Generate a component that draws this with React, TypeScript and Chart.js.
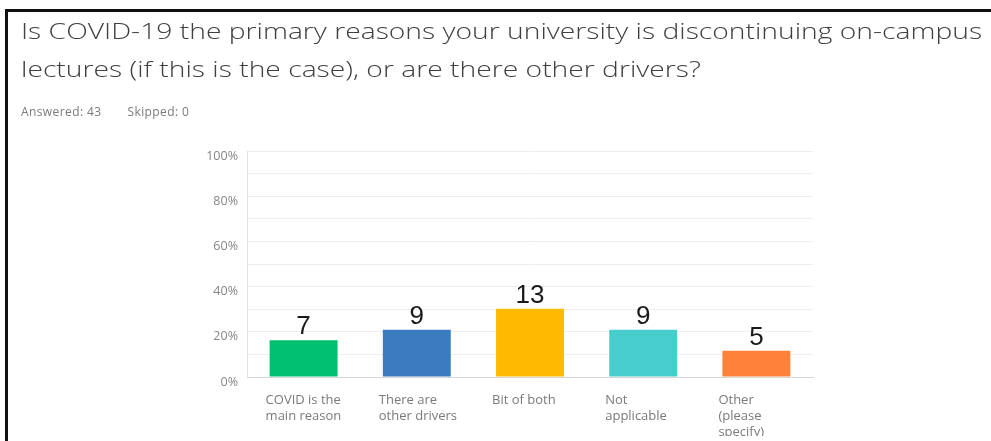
import React, { useEffect, useRef } from "react";
import { Chart, registerables } from "chart.js";

Chart.register(...registerables);

const titleLines = [
  "Is COVID-19 the primary reasons your university is discontinuing on-campus",
  "lectures (if this is the case), or are there other drivers?",
];
const answered = 43;
const skipped = 0;
const categories: string[][] = [
  ["COVID is the", "main reason"],
  ["There are", "other drivers"],
  ["Bit of both"],
  ["Not", "applicable"],
  ["Other", "(please", "specify)"],
];
const counts = [7, 9, 13, 9, 5];
const barColors = ["#00BF6F", "#3B7BC0", "#FFBA00", "#48CDCD", "#FF813A"];
const yTicks = [0, 20, 40, 60, 80, 100];

const countLabels = {
  id: "countLabels",
  afterDatasetsDraw(chart: any) {
    const ctx = chart.ctx;
    const meta = chart.getDatasetMeta(0);
    ctx.save();
    ctx.font = "26px 'Liberation Sans', Arial, sans-serif";
    ctx.fillStyle = "#1a1a1a";
    ctx.textAlign = "center";
    ctx.textBaseline = "alphabetic";
    meta.data.forEach((bar: any, i: number) => {
      ctx.fillText(String(counts[i]), bar.x, bar.y - 6);
    });
    ctx.restore();
  },
};

export default function App() {
  const ref = useRef<HTMLCanvasElement | null>(null);
  useEffect(() => {
    if (!ref.current) return;
    const percents = counts.map((c) => (c / answered) * 100);
    const chart = new Chart(ref.current, {
      type: "bar",
      data: {
        labels: categories,
        datasets: [
          {
            data: percents,
            backgroundColor: barColors,
            borderWidth: 0,
            barPercentage: 0.6,
            categoryPercentage: 1,
          },
        ],
      },
      options: {
        animation: false,
        responsive: false,
        maintainAspectRatio: false,
        layout: { padding: { left: 187, right: 178, top: 151, bottom: 0 } },
        plugins: {
          legend: { display: false },
          tooltip: { enabled: false },
          title: { display: false },
        },
        scales: {
          x: {
            afterFit: (s: any) => {
              s.height = 64;
            },
            grid: { display: false, drawTicks: false },
            border: { display: true, color: "#d6d6d6", width: 1 },
            ticks: {
              align: "start",
              labelOffset: -38,
              padding: 15,
              maxRotation: 0,
              autoSkip: false,
              color: "#7a7a7a",
              font: { family: "'Open Sans', sans-serif", size: 13, lineHeight: "16px" },
            },
          },
          y: {
            min: 0,
            max: 100,
            afterFit: (s: any) => {
              s.width = 60;
            },
            grid: { color: "#eeeeee", drawTicks: false, lineWidth: 1 },
            border: { display: true, color: "#e2e2e2", width: 1 },
            ticks: {
              stepSize: 10,
              padding: 9,
              labelOffset: 5,
              color: "#858585",
              font: { family: "'Open Sans', sans-serif", size: 12.5 },
              callback: (v: any) => (yTicks.includes(Number(v)) ? v + "%" : ""),
            },
          },
        },
      },
      plugins: [countLabels],
    });
    return () => chart.destroy();
  }, []);

  return (
    <div
      style={{
        position: "fixed",
        left: 0,
        top: 0,
        width: 991,
        height: 441,
        background: "#fff",
        overflow: "hidden",
      }}
    >
      <div
        style={{
          position: "absolute",
          left: 5,
          top: 9,
          width: 1000,
          height: 500,
          borderTop: "3px solid #111",
          borderLeft: "3px solid #111",
          boxSizing: "border-box",
        }}
      />
      <div style={{ position: "absolute", left: 0, top: 0, width: 991, height: 436, overflow: "hidden" }}>
        <canvas ref={ref} width={991} height={441} style={{ display: "block" }} />
      </div>
      <div
        style={{
          position: "absolute",
          left: 21,
          top: 11,
          fontFamily: "'Open Sans', sans-serif",
          fontWeight: 300,
          fontSize: 22,
          lineHeight: "38px",
          color: "#404040",
          whiteSpace: "nowrap",
          transform: "scaleX(1.284)",
          transformOrigin: "0 0",
        }}
      >
        {titleLines.map((t, i) => (
          <div key={i}>{t}</div>
        ))}
      </div>
      <div
        style={{
          position: "absolute",
          left: 21,
          top: 103,
          fontFamily: "'Open Sans', sans-serif",
          fontSize: 12,
          letterSpacing: 0.4,
          color: "#7a7a7a",
          whiteSpace: "nowrap",
        }}
      >
        <span>Answered: {answered}</span>
        <span style={{ marginLeft: 26 }}>Skipped: {skipped}</span>
      </div>
    </div>
  );
}
